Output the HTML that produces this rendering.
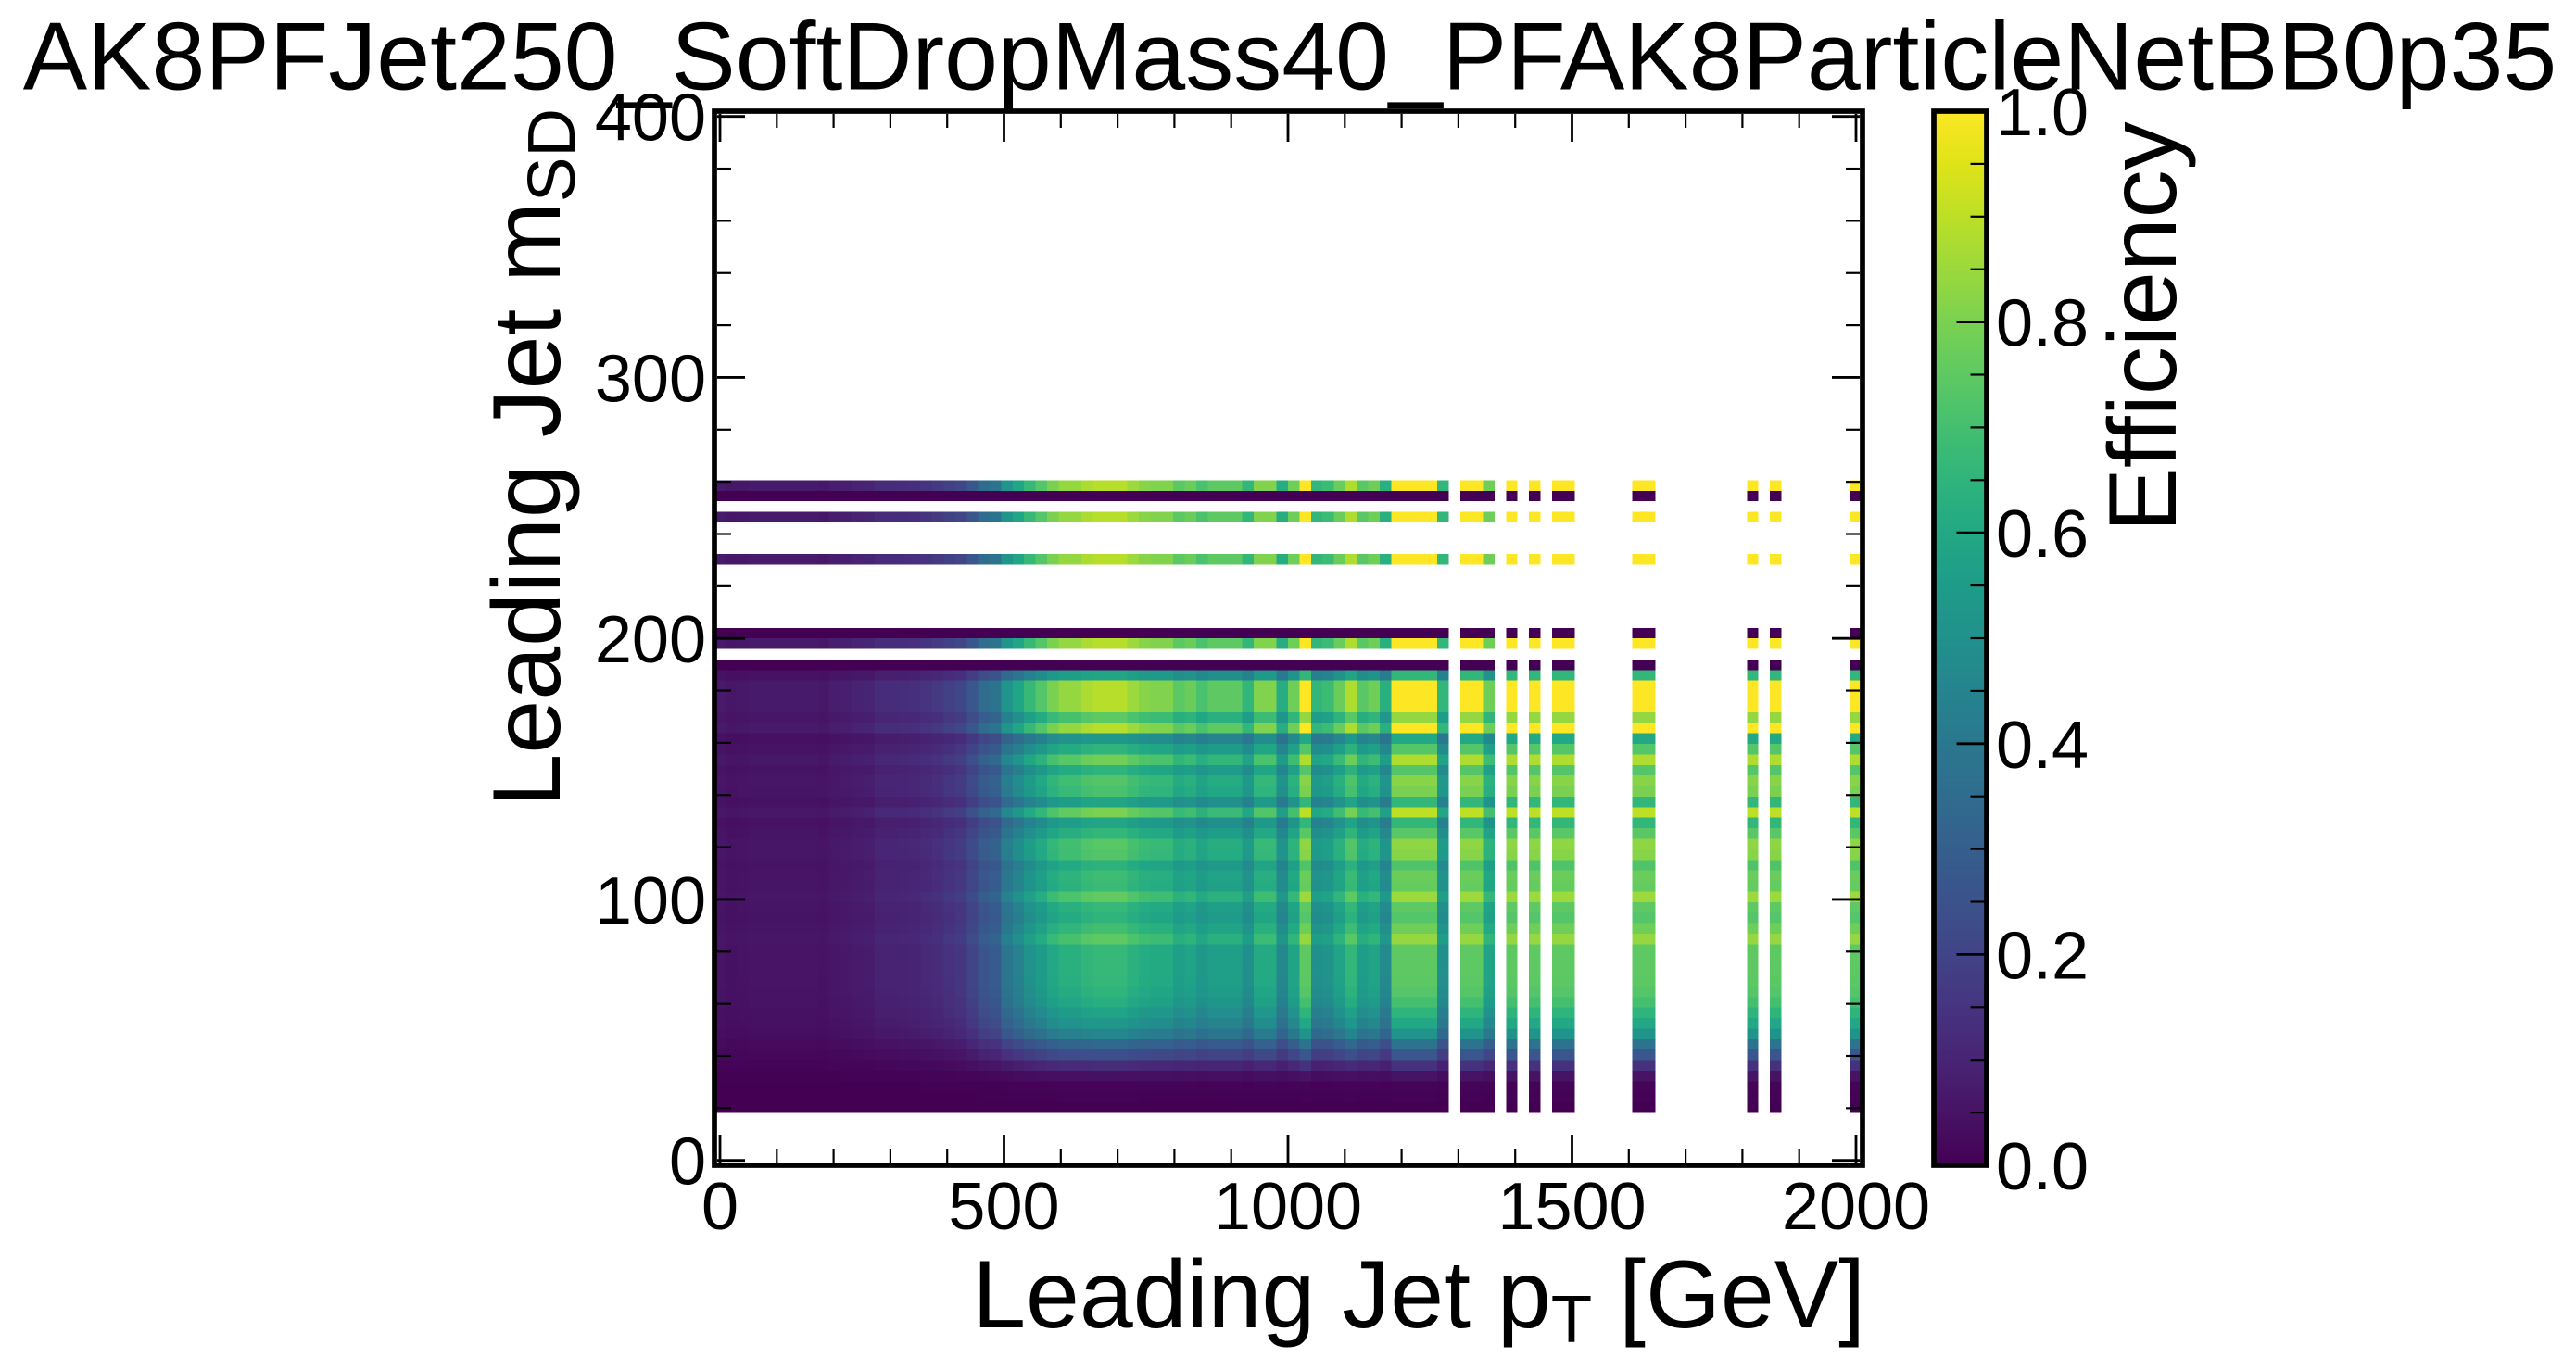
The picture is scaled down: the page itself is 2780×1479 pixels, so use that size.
<!DOCTYPE html>
<html lang="en">
<head>
<meta charset="utf-8">
<title>AK8PFJet250_SoftDropMass40_PFAK8ParticleNetBB0p35</title>
<style>
html,body{margin:0;padding:0;background:#fff;}
svg{display:block;}
text{font-family:"Liberation Sans",sans-serif;fill:#000;}
.big{font-size:104px;}
.tick{font-size:72px;}
</style>
</head>
<body>
<svg id="chart" xmlns="http://www.w3.org/2000/svg" width="2780" height="1479" viewBox="0 0 2780 1479">
  <defs>
    <linearGradient id="viridis-gradient" x1="0" y1="1" x2="0" y2="0"></linearGradient>
  </defs>
  <rect x="0" y="0" width="2780" height="1479" fill="#fff"/>
  <g id="mesh"></g>
  <rect x="771" y="120" width="1239" height="1138" fill="none" stroke="#000" stroke-width="5.7"/>
  <g id="axis-ticks"></g>
  <rect id="cbar-fill" x="2087" y="120" width="57" height="1138" fill="url(#viridis-gradient)"/>
  <rect x="2087" y="120" width="57" height="1138" fill="none" stroke="#000" stroke-width="5.7"/>
  <g id="cbar-ticks"></g>
  <text class="big" x="1392" y="96.5" text-anchor="middle">AK8PFJet250_SoftDropMass40_PFAK8ParticleNetBB0p35</text>
  <text class="big" x="2013" y="1433" text-anchor="end">Leading Jet p<tspan font-size="72.8" dy="16">T</tspan><tspan dy="-16"> [GeV]</tspan></text>
  <text class="big" text-anchor="end" transform="translate(604,117) rotate(-90)">Leading Jet m<tspan font-size="72.8" dy="16">SD</tspan></text>
  <text class="big" text-anchor="start" transform="translate(2348,574.5) rotate(-90)">Efficiency</text>
</svg>
<script>
// Efficiency vs leading-jet pT, one value per pT bin (null = empty bin)
const columnEfficiency = [
  .07,.06,.065,.07,.07,.07,.07,.07,.07,.065,
  .08,.085,.095,.10,.125,.125,.13,.135,.15,.165,
  .19,.21,.27,.35,.38,.52,.59,.67,.73,.80,
  .84,.84,.875,.89,.89,.89,.85,.82,.81,.81,
  .745,.77,.71,.75,.75,.75,.66,.81,.81,.62,
  .78,1,.66,.68,.77,.88,.74,.78,.63,1,
  1,1,1,.66,null,1,1,.78,null,1,
  null,1,null,1,1,null,null,null,null,null,
  1,1,null,null,null,null,null,null,null,null,
  1,null,1,null,null,null,null,null,null,1
];
// Relative response per soft-drop-mass bin, highest mass bin first (null = empty bin)
const rowScale = [
  1,0,null,1,null,null,null,1,null,null,
  null,null,null,null,0,1,null,0,.66,1,
  1,1,.84,1,.6,.73,.88,.73,.82,.80,
  .66,.90,.66,.74,.83,.82,.72,.77,.76,.85,
  .75,.73,.78,.84,.75,.75,.75,.745,.73,.70,
  .65,.60,.515,.38,.27,.14,.05,.01,.005,0
];
const highestMassBin = 64;
const binCount = 100;
const ptRangeMax = 2000;
const massRangeMax = 400;

const xMajorTicks = [0,500,1000,1500,2000];
const xMinorTicks = [100,200,300,400,600,700,800,900,1100,1200,1300,1400,1600,1700,1800,1900];
const yMajorTicks = [0,100,200,300,400];
const yMinorTicks = [20,40,60,80,120,140,160,180,220,240,260,280,320,340,360,380];
const cbarMajorTicks = [0,0.2,0.4,0.6,0.8,1.0];
const cbarMinorTicks = [.05,.1,.15,.25,.3,.35,.45,.5,.55,.65,.7,.75,.85,.9,.95];
const viridisStops = ["#440154","#471365","#482475","#463480","#414487","#3b528b","#355f8d","#2f6c8e","#2a788e","#25848e","#21918c","#1e9c89","#22a884","#2fb47c","#44bf70","#5ec962","#7ad151","#9bd93c","#bddf26","#dfe318","#fde725"];

const NS = "http://www.w3.org/2000/svg";
function xScale(v){ return 777 + v * 0.613; }
function yScale(v){ return 1252.7 - v * 2.8175; }
function cScale(v){ return 1258 - v * 1138; }

function hexRgb(h){ return [parseInt(h.substr(1,2),16),parseInt(h.substr(3,2),16),parseInt(h.substr(5,2),16)]; }
function viridis(v){
  const t = Math.max(0,Math.min(1,v)) * (viridisStops.length-1);
  const i = Math.min(Math.floor(t), viridisStops.length-2);
  const f = t - i;
  const a = hexRgb(viridisStops[i]), b = hexRgb(viridisStops[i+1]);
  return "rgb("+Math.round(a[0]+(b[0]-a[0])*f)+","+Math.round(a[1]+(b[1]-a[1])*f)+","+Math.round(a[2]+(b[2]-a[2])*f)+")";
}

const grad = document.getElementById("viridis-gradient");
viridisStops.forEach(function(c,i){
  const s = document.createElementNS(NS,"stop");
  s.setAttribute("offset", i/(viridisStops.length-1));
  s.setAttribute("stop-color", c);
  grad.appendChild(s);
});

const mesh = document.getElementById("mesh");
const ptStep = ptRangeMax/(binCount-1);
const massStep = massRangeMax/(binCount-1);
rowScale.forEach(function(rowValue,n){
  if(rowValue===null) return;
  const massCentre = (highestMassBin-n)*massStep;
  const yTop = yScale(massCentre+massStep/2);
  const yBottom = yScale(massCentre-massStep/2);
  columnEfficiency.forEach(function(colValue,i){
    if(colValue===null) return;
    const ptCentre = i*ptStep;
    const xLeft = xScale(ptCentre-ptStep/2);
    const xRight = xScale(ptCentre+ptStep/2);
    const r = document.createElementNS(NS,"rect");
    
    
    r.setAttribute("x", xLeft);
    r.setAttribute("y", yTop);
    r.setAttribute("width", xRight-xLeft);
    r.setAttribute("height", yBottom-yTop);
    r.setAttribute("fill", viridis(rowValue*colValue));
    r.setAttribute("shape-rendering","crispEdges");
    mesh.appendChild(r);
  });
});

function addLine(parent,x1,y1,x2,y2,w,name){
  const l = document.createElementNS(NS,"line");
  
  
  l.setAttribute("x1",x1);
  l.setAttribute("y1",y1);
  l.setAttribute("x2",x2);
  l.setAttribute("y2",y2);
  l.setAttribute("stroke","#000");
  l.setAttribute("stroke-width",w);
  parent.appendChild(l);
}
function addLabel(parent,x,y,anchor,str,name){
  const t = document.createElementNS(NS,"text");
  
  
  t.setAttribute("class","tick");
  t.setAttribute("x",x);
  t.setAttribute("y",y);
  t.setAttribute("text-anchor",anchor);
  t.textContent = str;
  parent.appendChild(t);
}

const tickGroup = document.getElementById("axis-ticks");
const axLeft = 774, axRight = 2007, axTop = 123, axBottom = 1255;
xMajorTicks.forEach(function(v){
  const x = xScale(v);
  addLine(tickGroup,x,axBottom,x,axBottom-30,2.8,"x-major-tick");
  addLine(tickGroup,x,axTop,x,axTop+30,2.8,"x-major-tick-top");
  addLabel(tickGroup,x,1327,"middle",String(v),"x-tick-label");
});
xMinorTicks.forEach(function(v){
  const x = xScale(v);
  addLine(tickGroup,x,axBottom,x,axBottom-15,2.2,"x-minor-tick");
  addLine(tickGroup,x,axTop,x,axTop+15,2.2,"x-minor-tick-top");
});
yMajorTicks.forEach(function(v){
  const y = yScale(v);
  addLine(tickGroup,axLeft,y,axLeft+30,y,2.8,"y-major-tick");
  addLine(tickGroup,axRight,y,axRight-30,y,2.8,"y-major-tick-right");
  addLabel(tickGroup,762,y+26,"end",String(v),"y-tick-label");
});
yMinorTicks.forEach(function(v){
  const y = yScale(v);
  addLine(tickGroup,axLeft,y,axLeft+15,y,2.2,"y-minor-tick");
  addLine(tickGroup,axRight,y,axRight-15,y,2.2,"y-minor-tick-right");
});

const cbarGroup = document.getElementById("cbar-ticks");
cbarMajorTicks.forEach(function(v){
  const y = cScale(v);
  if(v>0 && v<1){
    addLine(cbarGroup,2141.5,y,2111.5,y,2.8,"colorbar-major-tick");
  }
  addLabel(cbarGroup,2154,y+26,"start",v.toFixed(1),"colorbar-tick-label");
});
cbarMinorTicks.forEach(function(v){
  const y = cScale(v);
  addLine(cbarGroup,2141.5,y,2126.5,y,2.2,"colorbar-minor-tick");
});
</script>
</body>
</html>
